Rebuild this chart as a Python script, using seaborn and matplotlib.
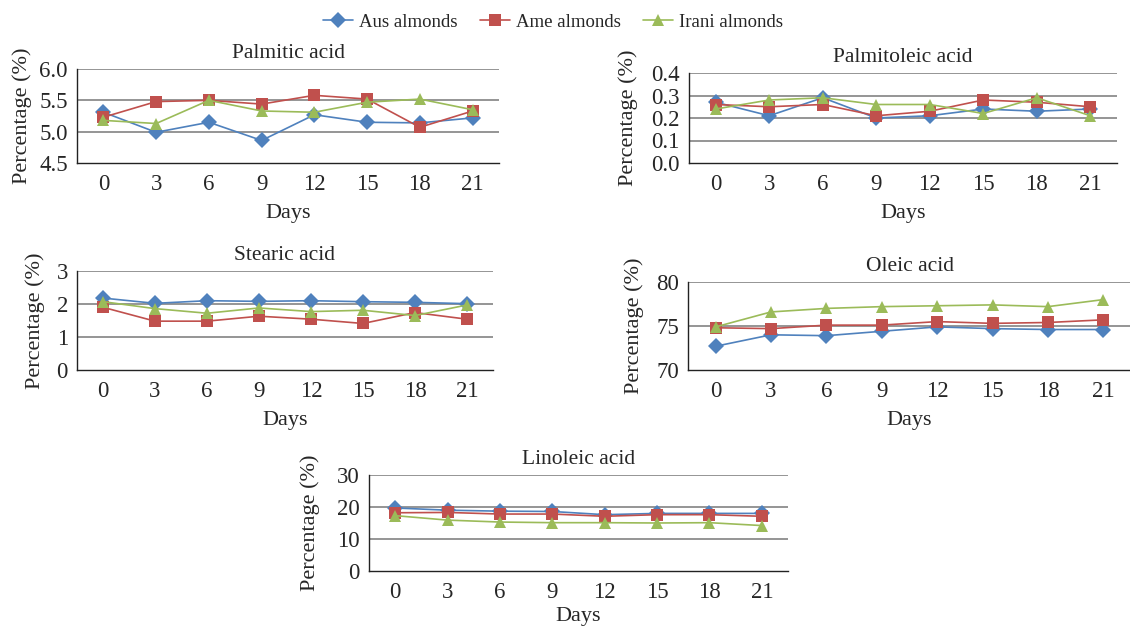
import numpy as np
import pandas as pd
import matplotlib
matplotlib.use('Agg')
import matplotlib.pyplot as plt
import seaborn as sns

# data
days = [0, 3, 6, 9, 12, 15, 18, 21]
series = ['Aus almonds', 'Ame almonds', 'Irani almonds']

palmitic_aus = [5.31, 4.99, 5.15, 4.86, 5.27, 5.15, 5.14, 5.22]
palmitic_ame = [5.23, 5.48, 5.50, 5.44, 5.58, 5.52, 5.07, 5.33]
palmitic_irani = [5.18, 5.13, 5.50, 5.33, 5.31, 5.47, 5.52, 5.35]

palmitoleic_aus = [0.27, 0.21, 0.29, 0.20, 0.21, 0.24, 0.23, 0.24]
palmitoleic_ame = [0.26, 0.25, 0.26, 0.21, 0.23, 0.28, 0.27, 0.25]
palmitoleic_irani = [0.24, 0.28, 0.29, 0.26, 0.26, 0.22, 0.29, 0.21]

stearic_aus = [2.18, 2.02, 2.10, 2.08, 2.10, 2.07, 2.05, 2.01]
stearic_ame = [1.90, 1.48, 1.48, 1.63, 1.54, 1.41, 1.74, 1.54]
stearic_irani = [2.07, 1.86, 1.72, 1.88, 1.77, 1.81, 1.65, 1.97]

oleic_aus = [72.7, 74.0, 73.9, 74.4, 74.9, 74.7, 74.6, 74.6]
oleic_ame = [74.8, 74.7, 75.1, 75.1, 75.5, 75.3, 75.4, 75.7]
oleic_irani = [74.9, 76.6, 77.0, 77.2, 77.3, 77.4, 77.2, 78.0]

linoleic_aus = [19.7, 19.0, 18.7, 18.6, 17.6, 18.0, 18.0, 18.0]
linoleic_ame = [18.2, 18.3, 17.8, 17.8, 17.1, 17.6, 17.6, 17.1]
linoleic_irani = [17.3, 15.9, 15.3, 15.1, 15.1, 15.0, 15.1, 14.2]

panels = [
    ('Palmitic acid', [palmitic_aus, palmitic_ame, palmitic_irani], [4.5, 5.0, 5.5, 6.0], '%.1f'),
    ('Palmitoleic acid', [palmitoleic_aus, palmitoleic_ame, palmitoleic_irani], [0.0, 0.1, 0.2, 0.3, 0.4], '%.1f'),
    ('Stearic acid', [stearic_aus, stearic_ame, stearic_irani], [0, 1, 2, 3], '%d'),
    ('Oleic acid', [oleic_aus, oleic_ame, oleic_irani], [70, 75, 80], '%d'),
    ('Linoleic acid', [linoleic_aus, linoleic_ame, linoleic_irani], [0, 10, 20, 30], '%d'),
]

# axes boxes in pixels: left, right, top, bottom, y-label centre offset, x-label pad
boxes = [
    (77, 499, 69, 163, 55, 6.5),
    (689, 1117, 73, 163, 61, 6.5),
    (77, 493, 271, 370, 42, 6.5),
    (688, 1131, 282, 370, 54, 6.5),
    (369, 788, 475, 571, 59, 3.0),
]

colors = {'Aus almonds': '#4F81BD', 'Ame almonds': '#C0504D', 'Irani almonds': '#9BBB59'}
markers = {'Aus almonds': 'D', 'Ame almonds': 's', 'Irani almonds': '^'}

sns.set_theme(style='white')
plt.rcParams['font.family'] = ['Liberation Serif', 'DejaVu Serif']

W, H = 1130, 628
fig = plt.figure(figsize=(W / 100, H / 100), dpi=100)

handles = None
for (title, vals, yticks, fmt), (l, r, t, b, yoff, xpad) in zip(panels, boxes):
    ax = fig.add_axes([l / W, 1 - b / H, (r - l) / W, (b - t) / H])
    df = pd.DataFrame({
        'Days': days * 3,
        'value': vals[0] + vals[1] + vals[2],
        'series': [s for s in series for _ in days],
    })
    sns.lineplot(data=df, x='Days', y='value', hue='series', style='series',
                 hue_order=series, style_order=series,
                 palette=colors, markers=markers, dashes=False, markersize=8.5,
                 markeredgewidth=0, linewidth=1.2, errorbar=None,
                 legend=(handles is None), ax=ax)
    if handles is None:
        handles, labels = ax.get_legend_handles_labels()
        ax.get_legend().remove()
    ax.set_xlim(-1.5, 22.5)
    ax.set_xticks(days)
    ax.set_ylim(yticks[0], yticks[-1])
    ax.set_yticks(yticks)
    ax.set_yticklabels([fmt % v for v in yticks])
    for v in yticks[1:]:
        ax.axhline(v, color='#8c8c8c', linewidth=1.3, zorder=0)
    ax.tick_params(axis='x', labelsize=16.5, length=0, pad=8)
    ax.tick_params(axis='y', labelsize=16.5, length=0, pad=6.5)
    for s in ['top', 'right']:
        ax.spines[s].set_visible(False)
    for s in ['left', 'bottom']:
        ax.spines[s].set_color('#222222')
        ax.spines[s].set_linewidth(1.0)
    ax.set_title(title, fontsize=15.5, pad=8)
    ax.set_xlabel('Days', fontsize=16, labelpad=xpad)
    ax.set_ylabel('Percentage (%)', fontsize=16, va='center')
    ax.yaxis.set_label_coords(-yoff / (r - l), 0.5)

fig.legend(handles, labels, loc='center', bbox_to_anchor=(553 / W, 1 - 22 / H),
           ncol=3, frameon=False, fontsize=13.5, handlelength=1.6,
           handletextpad=0.3, columnspacing=1.2)

fig.savefig('out.png', dpi=100)
